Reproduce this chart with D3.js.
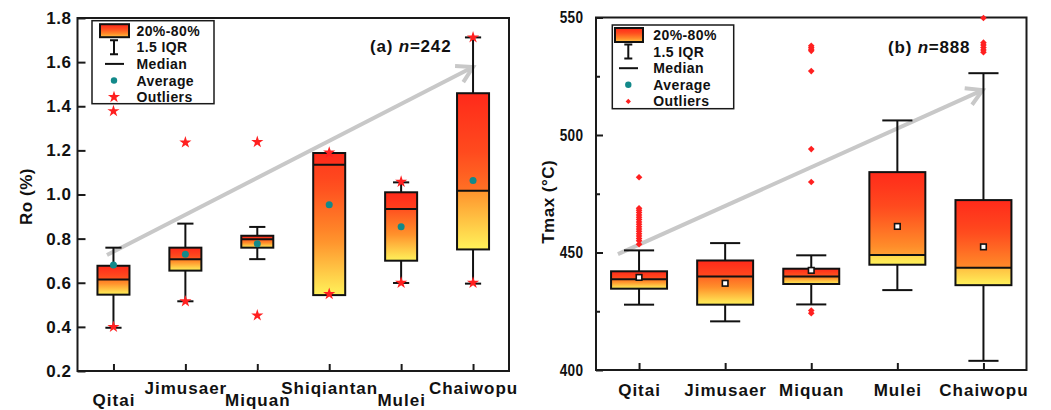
<!DOCTYPE html>
<html><head><meta charset="utf-8">
<script src="https://cdn.jsdelivr.net/npm/d3@7"></script>
<style>
body{margin:0;background:#fff;}
text{font-family:"Liberation Sans",Arial,sans-serif;font-weight:bold;fill:#111;}
</style></head><body>
<svg id="c" width="1051" height="410"></svg>
<script>
// ---------- Panel (a): Ro (%) ----------
const roCategories = ["Qitai","Jimusaer","Miquan","Shiqiantan","Mulei","Chaiwopu"];
const roQ1         = [0.546,0.655,0.759,0.544,0.700,0.751];
const roQ3         = [0.677,0.759,0.813,1.188,1.010,1.459];
const roMedian     = [0.615,0.707,0.797,1.135,0.934,1.017];
const roMean       = [0.680,0.729,0.777,0.954,0.854,1.063];
const roWhiskerLow = [0.396,0.516,0.707,0.544,0.599,0.596];
const roWhiskerHigh= [0.759,0.868,0.853,1.188,1.055,1.712];
const roOutliers   = [[0.400,1.378],[0.516,1.236],[0.452,1.238],[0.549,1.190],[0.600,1.058],[0.600,1.712]];
const roTicks      = [0.2,0.4,0.6,0.8,1.0,1.2,1.4,1.6,1.8];

// ---------- Panel (b): Tmax (°C) ----------
const tmCategories = ["Qitai","Jimusaer","Miquan","Mulei","Chaiwopu"];
const tmQ1         = [434.6,427.8,436.6,444.8,436.1];
const tmQ3         = [442.0,446.6,443.1,484.2,472.3];
const tmMedian     = [438.6,439.8,439.8,448.9,443.5];
const tmMean       = [439.4,436.9,442.4,461.1,452.4];
const tmWhiskerLow = [427.8,420.7,427.9,434.0,403.9];
const tmWhiskerHigh= [450.9,454.0,448.8,506.2,526.3];
const tmOutliers   = [
  [453.5,455,456,457,458,459,460,461,462,463,464,465,466,467,468,468.8,482],
  [],
  [424.2,425.3,480,494,527.2,535.8,536.5,537.2,538],
  [],
  [535.2,536.2,537.2,538.3,539.3,549.8]
];
const tmTicks      = [400,450,500,550];
const tmMinorTicks = [425,475,525];

const legendLabels = ["20%-80%","1.5 IQR","Median","Average","Outliers"];

const svg = d3.select("#c");
const defs = svg.append("defs");
const gradStops = [[0,"#ff2a1a"],[0.3,"#ff4a1e"],[0.65,"#ff8e2a"],[1,"#fff25a"]];
function gcol(t){
  t=Math.max(0,Math.min(1,t));
  for(let k=1;k<gradStops.length;k++){
    if(t<=gradStops[k][0]){
      const a=gradStops[k-1], b=gradStops[k];
      return d3.interpolateRgb(a[1],b[1])((t-a[0])/(b[0]-a[0]));
    }
  }
  return gradStops[gradStops.length-1][1];
}
let gid=0;
function makeGrad(a,b){
  const id="g"+(gid++);
  const g=defs.append("linearGradient").attr("id",id).attr("x1",0).attr("y1",0).attr("x2",0).attr("y2",1);
  const n=10;
  for(let i=0;i<=n;i++){const t=a+(b-a)*i/n; g.append("stop").attr("offset",i/n).attr("stop-color",gcol(t));}
  return "url(#"+id+")";
}

function panel(cfg){
  const g = svg.append("g");
  const x = d3.scalePoint().domain(cfg.cats).range([cfg.x0,cfg.x1]).padding(0.5);
  const y = d3.scaleLinear().domain(cfg.domain).range([cfg.y1,cfg.y0]);
  const step = x.step();
  const bw = step*cfg.boxFrac, cw = step*cfg.capFrac;

  // arrow
  const ax0 = x(cfg.arrow.from[0])+cfg.arrow.from[1]*step, ay0 = y(cfg.arrow.from[2]);
  const ax1 = x(cfg.arrow.to[0])+cfg.arrow.to[1]*step, ay1 = y(cfg.arrow.to[2]);
  const ang = Math.atan2(ay1-ay0, ax1-ax0), L=18, sp=30*Math.PI/180;
  g.append("line").attr("x1",ax0).attr("y1",ay0).attr("x2",ax1).attr("y2",ay1)
    .attr("stroke","#c8c8c8").attr("stroke-width",4);
  g.append("path").attr("d",`M${ax1-L*Math.cos(ang-sp)},${ay1-L*Math.sin(ang-sp)}L${ax1},${ay1}L${ax1-L*Math.cos(ang+sp)},${ay1-L*Math.sin(ang+sp)}`)
    .attr("fill","none").attr("stroke","#c8c8c8").attr("stroke-width",4).attr("stroke-linejoin","miter");

  // frame
  g.append("rect").attr("x",cfg.x0).attr("y",cfg.y0).attr("width",cfg.x1-cfg.x0).attr("height",cfg.y1-cfg.y0)
    .attr("fill","none").attr("stroke","#1a1a1a").attr("stroke-width",2);

  // y axis
  const yAx = g.append("g").attr("transform",`translate(${cfg.x0},0)`)
    .call(d3.axisLeft(y).tickValues(cfg.ticks).tickFormat(cfg.fmt).tickSize(-cfg.tickLen).tickPadding(cfg.labelPad));
  yAx.select(".domain").remove();
  yAx.selectAll("line").attr("stroke","#1a1a1a").attr("stroke-width",2);
  yAx.selectAll("text").attr("fill","#111").style("font-size","17px").style("font-family","Liberation Sans, Arial, sans-serif").style("font-weight","bold").style("letter-spacing","0.5px");
  if(cfg.squeeze){
    yAx.selectAll("text").attr("transform",`scale(${cfg.squeeze},1)`).attr("x",-cfg.labelPad/cfg.squeeze);
  }
  if(cfg.minor){
    g.append("g").attr("transform",`translate(${cfg.x0},0)`)
      .call(d3.axisLeft(y).tickValues(cfg.minor).tickFormat("").tickSize(-4))
      .call(s=>{s.select(".domain").remove(); s.selectAll("line").attr("stroke","#1a1a1a").attr("stroke-width",2);});
  }
  // x axis
  const xAx = g.append("g").attr("transform",`translate(0,${cfg.y1})`)
    .call(d3.axisBottom(x).tickSize(-7).tickPadding(4));
  xAx.select(".domain").remove();
  xAx.selectAll("line").attr("stroke","#1a1a1a").attr("stroke-width",2);
  xAx.selectAll("text").attr("fill","#111").attr("dy",0)
    .attr("y",(d,i)=>cfg.stagger ? (i%2===0?35:22.5) : 26)
    .style("font-size","17px").style("font-family","Liberation Sans, Arial, sans-serif").style("font-weight","bold").style("letter-spacing","1px");

  // y title
  g.append("text").attr("transform",`translate(${cfg.titleX},${(cfg.y0+cfg.y1)/2+cfg.titleDY}) rotate(-90)`)
    .attr("text-anchor","middle").attr("dy","0.35em").style("font-size","17px").style("letter-spacing","0.5px").text(cfg.title);

  // boxes
  cfg.cats.forEach((c,i)=>{
    const cx=x(c);
    const yq3=y(cfg.q3[i]), yq1=y(cfg.q1[i]), ym=y(cfg.med[i]);
    const h=yq1-yq3, fu=(ym-yq3)/h;
    g.append("line").attr("x1",cx).attr("x2",cx).attr("y1",y(cfg.wh[i])).attr("y2",yq3).attr("stroke","#111").attr("stroke-width",2);
    g.append("line").attr("x1",cx).attr("x2",cx).attr("y1",yq1).attr("y2",y(cfg.wl[i])).attr("stroke","#111").attr("stroke-width",2);
    if(cfg.wh[i]>cfg.q3[i]) g.append("line").attr("x1",cx-cw/2).attr("x2",cx+cw/2).attr("y1",y(cfg.wh[i])).attr("y2",y(cfg.wh[i])).attr("stroke","#111").attr("stroke-width",2);
    if(cfg.wl[i]<cfg.q1[i]) g.append("line").attr("x1",cx-cw/2).attr("x2",cx+cw/2).attr("y1",y(cfg.wl[i])).attr("y2",y(cfg.wl[i])).attr("stroke","#111").attr("stroke-width",2);
    g.append("rect").attr("x",cx-bw/2).attr("y",yq3).attr("width",bw).attr("height",Math.max(ym-yq3,0.01))
      .attr("fill",makeGrad(0,0.8*fu));
    g.append("rect").attr("x",cx-bw/2).attr("y",ym).attr("width",bw).attr("height",Math.max(yq1-ym,0.01))
      .attr("fill",makeGrad(fu+0.12*(1-fu),1));
    g.append("rect").attr("x",cx-bw/2).attr("y",yq3).attr("width",bw).attr("height",h)
      .attr("fill","none").attr("stroke","#111").attr("stroke-width",2);
    g.append("line").attr("x1",cx-bw/2).attr("x2",cx+bw/2).attr("y1",ym).attr("y2",ym).attr("stroke","#111").attr("stroke-width",2);
    if(cfg.meanType==="dot"){
      g.append("circle").attr("cx",cx).attr("cy",y(cfg.mean[i])).attr("r",3.5).attr("fill","#12898a");
    } else {
      g.append("rect").attr("x",cx-2.8).attr("y",y(cfg.mean[i])-2.8).attr("width",5.6).attr("height",5.6)
        .attr("fill","#fff").attr("stroke","#111").attr("stroke-width",1.6);
    }
    cfg.out[i].forEach(v=>{
      g.append("path").attr("d",cfg.outSym()).attr("transform",`translate(${cx},${y(v)})${cfg.outRot}`).attr("fill","#ff2020");
    });
  });

  // annotation
  const an = g.append("text").attr("x",cfg.ann.x).attr("y",cfg.ann.y).style("font-size","17px").style("letter-spacing","0.8px");
  an.append("tspan").text(cfg.ann.pre);
  an.append("tspan").style("font-style","italic").text("n");
  an.append("tspan").text("="+cfg.ann.n);

  // legend
  const lg=cfg.legend;
  const lgG=g.append("g").attr("transform",`translate(${lg.x},${lg.y})`);
  lgG.append("rect").attr("width",lg.w).attr("height",lg.h).attr("fill","#fff").attr("stroke","#1a1a1a").attr("stroke-width",1.5);
  const rowY=k=>lg.r0+k*lg.rs;
  lgG.append("rect").attr("x",lg.sx).attr("y",rowY(0)-lg.sh/2).attr("width",lg.sw).attr("height",lg.sh)
    .attr("fill",makeGrad(0,0.85)).attr("stroke","#111").attr("stroke-width",2);
  const r1=rowY(1);
  lgG.append("path").attr("d",`M${lg.cx-4},${r1-7}H${lg.cx+4}M${lg.cx},${r1-7}V${r1+7}M${lg.cx-4},${r1+7}H${lg.cx+4}`).attr("stroke","#111").attr("stroke-width",2).attr("fill","none");
  lgG.append("line").attr("x1",lg.mx0).attr("x2",lg.mx1).attr("y1",rowY(2)).attr("y2",rowY(2)).attr("stroke","#111").attr("stroke-width",2);
  lgG.append("circle").attr("cx",lg.cx).attr("cy",rowY(3)).attr("r",3.2).attr("fill","#12898a");
  lgG.append("path").attr("d",lg.sym()).attr("transform",`translate(${lg.cx},${rowY(4)})${cfg.outRot}`).attr("fill","#ff2020");
  legendLabels.forEach((t,k)=>{
    lgG.append("text").attr("x",lg.tx).attr("y",rowY(k)).attr("dy","0.36em").style("font-size","14px").style("letter-spacing","0.4px").text(t);
  });
}

panel({
  cats:roCategories, x0:77.5, x1:509, y0:18, y1:371, domain:[0.2,1.8],
  ticks:roTicks, fmt:d3.format(".1f"), tickLen:8, labelPad:6,
  boxFrac:0.445, capFrac:0.225,
  q1:roQ1,q3:roQ3,med:roMedian,mean:roMean,wl:roWhiskerLow,wh:roWhiskerHigh,out:roOutliers,
  meanType:"dot", outSym:d3.symbol(d3.symbolStar).size(46), outRot:"",
  stagger:true, title:"Ro (%)", titleX:26, titleDY:2,
  arrow:{from:["Qitai",-0.09,0.726],to:["Chaiwopu",0,1.578]},
  ann:{x:370,y:52,pre:"(a) ",n:"242"},
  legend:{x:92,y:20.7,w:122,h:83,r0:10,rs:16.6,sx:8,sw:29,sh:13,cx:22,mx0:13,mx1:32,tx:44.5,sym:d3.symbol(d3.symbolStar).size(46)}
});

panel({
  cats:tmCategories, x0:596, x1:1026.5, y0:17.5, y1:370, domain:[400,550],
  ticks:tmTicks, minor:tmMinorTicks, fmt:d3.format("d"), tickLen:7, labelPad:12.5, squeeze:0.8,
  boxFrac:0.65, capFrac:0.35,
  q1:tmQ1,q3:tmQ3,med:tmMedian,mean:tmMean,wl:tmWhiskerLow,wh:tmWhiskerHigh,out:tmOutliers,
  meanType:"square", outSym:d3.symbol(d3.symbolSquare).size(22), outRot:" rotate(45)",
  stagger:false, title:"Tmax (°C)", titleX:548, titleDY:8,
  arrow:{from:["Qitai",-0.245,449.3],to:["Chaiwopu",-0.01,519.1]},
  ann:{x:888,y:53,pre:"(b) ",n:"888"},
  legend:{x:612.3,y:25,w:121.4,h:83.7,r0:10,rs:16.6,sx:2.7,sw:28,sh:14,cx:16,mx0:6.7,mx1:25.7,tx:41,sym:d3.symbol(d3.symbolSquare).size(14)}
});
</script>
</body></html>
